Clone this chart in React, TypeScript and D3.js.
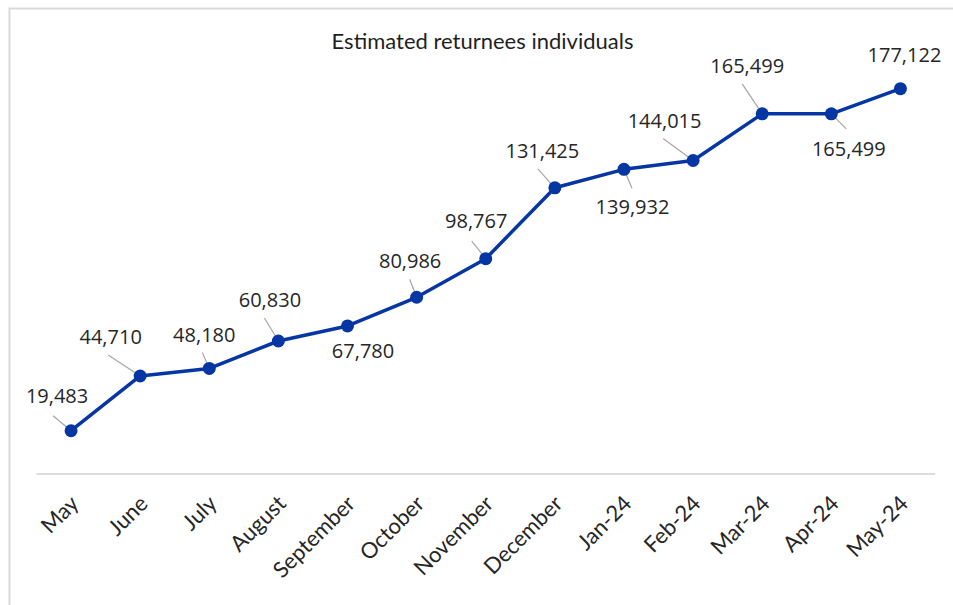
import React from "react";
import * as d3 from "d3";

// ---- data ----
const categories = [
  "May", "June", "July", "August", "September", "October", "November",
  "December", "Jan-24", "Feb-24", "Mar-24", "Apr-24", "May-24",
];
const returnees = [
  19483, 44710, 48180, 60830, 67780, 80986, 98767,
  131425, 139932, 144015, 165499, 165499, 177122,
];
const yDomain = [0, 200000];
const chartTitle = "Estimated returnees individuals";

// ---- layout (label placement relative to each point) ----
const labelOffsets: [number, number][] = [
  [-14, -35], [-29.5, -39.5], [-5, -33.5], [-8.5, -41], [15.5, 25], [-6.5, -36.5],
  [-9.5, -37.5], [-12.5, -37], [8.5, 37], [-28.5, -39.5], [-15, -48.5], [17.5, 34.5], [4, -33.5],
];
const leaderStarts: ([number, number] | null)[] = [
  [-18, -15], [-32, -21], [-7, -16], [-14, -23], null, [-7, -18],
  [-14, -17.5], [-17, -19], [8, 19], [-30, -22], [-20, -30], [15, 15], null,
];

const W = 953;
const H = 605;
const plot = { left: 36.5, right: 935, top: 39, bottom: 473 };
const blue = "#0636a3";
const fmt = d3.format(",");

export default function App() {
  const x = d3
    .scalePoint<string>()
    .domain(categories)
    .range([plot.left, plot.right])
    .padding(0.5);
  const y = d3.scaleLinear().domain(yDomain).range([plot.bottom, plot.top]);

  const pts = categories.map((c, i) => ({ c, v: returnees[i], px: x(c)!, py: y(returnees[i]) }));
  const line = d3
    .line<{ px: number; py: number }>()
    .x((d) => d.px)
    .y((d) => d.py);

  return (
    <svg
      width={W}
      height={H}
      style={{ position: "absolute", left: 0, top: 0, background: "#fff" }}
      fontFamily="Lato, 'Open Sans', sans-serif"
    >
      <rect x={0} y={0} width={W} height={H} fill="#fff" />
      <rect x={9.5} y={8.5} width={W + 20} height={H + 20} fill="none" stroke="#d9d9d9" strokeWidth={2} />
      <text x={482.5} y={49} textAnchor="middle" fontSize={22} fill="#1f1f1f">
        {chartTitle}
      </text>
      <line x1={plot.left} x2={plot.right} y1={plot.bottom + 1} y2={plot.bottom + 1} stroke="#d0d0d0" strokeWidth={1.5} />
      {categories.map((c) => (
        <text
          key={c}
          transform={`translate(${x(c)! + 9},${505}) rotate(-45)`}
          textAnchor="end"
          fontSize={22}
          fill="#262626"
        >
          {c}
        </text>
      ))}
      {pts.map((p, i) => {
        const s = leaderStarts[i];
        return s ? (
          <line key={"l" + i} x1={p.px + s[0]} y1={p.py + s[1]} x2={p.px} y2={p.py} stroke="#a6a6a6" strokeWidth={1.2} />
        ) : null;
      })}
      <path d={line(pts)!} fill="none" stroke={blue} strokeWidth={3.5} strokeLinejoin="round" />
      {pts.map((p, i) => (
        <circle key={"c" + i} cx={p.px} cy={p.py} r={6.5} fill={blue} />
      ))}
      {pts.map((p, i) => (
        <text
          key={"t" + i}
          x={p.px + labelOffsets[i][0]}
          y={p.py + labelOffsets[i][1]}
          dy="0.36em"
          textAnchor="middle"
          fontSize={20}
          fontFamily="'Open Sans', sans-serif"
          fill="#262626"
        >
          {fmt(p.v)}
        </text>
      ))}
    </svg>
  );
}
